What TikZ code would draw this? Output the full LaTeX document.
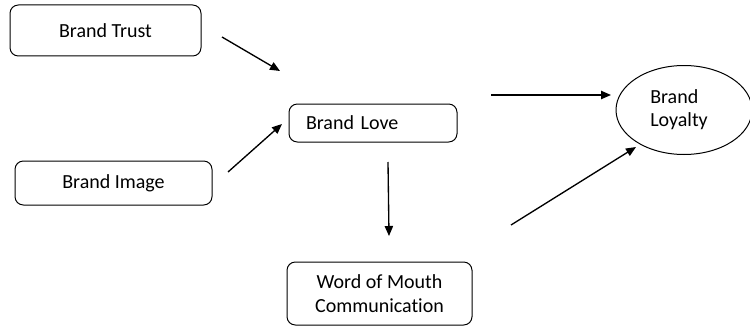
\documentclass[tikz,border=0pt]{standalone}
\usepackage{fontspec}
\setmainfont{Carlito}[Ligatures=NoCommon]
\usetikzlibrary{arrows.meta,shapes.geometric}
\tikzset{
	box/.style={draw, rounded corners=5pt, line width=0.6pt, inner sep=0pt, align=center},
	flow/.style={line width=0.8pt, -{Triangle[length=6pt,width=5pt]}}
}

\begin{document}
\begin{tikzpicture}[x=0.6pt, y=-0.6pt, font=\fontsize{12}{14}\selectfont]
		%%%%% START %%%%%
		
		\useasboundingbox (0, 0) rectangle (750, 326);
		
		\node[box, minimum width=114.6pt, minimum height=30.6pt] (trust) at (105.5, 30.5) {Brand Trust};
		\node[box, minimum width=118.2pt, minimum height=26.4pt] (image) at (113.5, 183) {Brand Image};
		\node[box, text width=80.4pt, inner xsep=10.2pt, minimum height=22.8pt, align=left] (love) at (373, 123) {Brand Love};
		\node[box, minimum width=111pt, minimum height=37.8pt] (wom) at (379.5, 293.5) {Word of Mouth\\Communication};
		
		\node[draw, ellipse, line width=0.6pt, minimum width=81.6pt, minimum height=53.4pt] (loyalty) at (684, 110) {};
		\node[align=left, inner sep=0pt] (loyaltytext) at (679, 110) {Brand\\Loyalty};
		
		\coordinate (trustout) at (222, 37);
		\coordinate (lovein1) at (280, 71);
		\coordinate (imageout) at (228, 172);
		\coordinate (lovein2) at (282, 124);
		\coordinate (loveout1) at (491, 95);
		\coordinate (loyaltyin1) at (611, 95);
		\coordinate (loveout2) at (388, 162);
		\coordinate (womin) at (389, 236);
		\coordinate (womout) at (511, 225);
		\coordinate (loyaltyin2) at (636, 147);
		
		\draw[flow] (trustout) -- (lovein1);
		\draw[flow] (imageout) -- (lovein2);
		\draw[flow] (loveout1) -- (loyaltyin1);
		\draw[flow] (loveout2) -- (womin);
		\draw[flow] (womout) -- (loyaltyin2);
		
		%%%%% END %%%%%
	\end{tikzpicture}
\end{document}
